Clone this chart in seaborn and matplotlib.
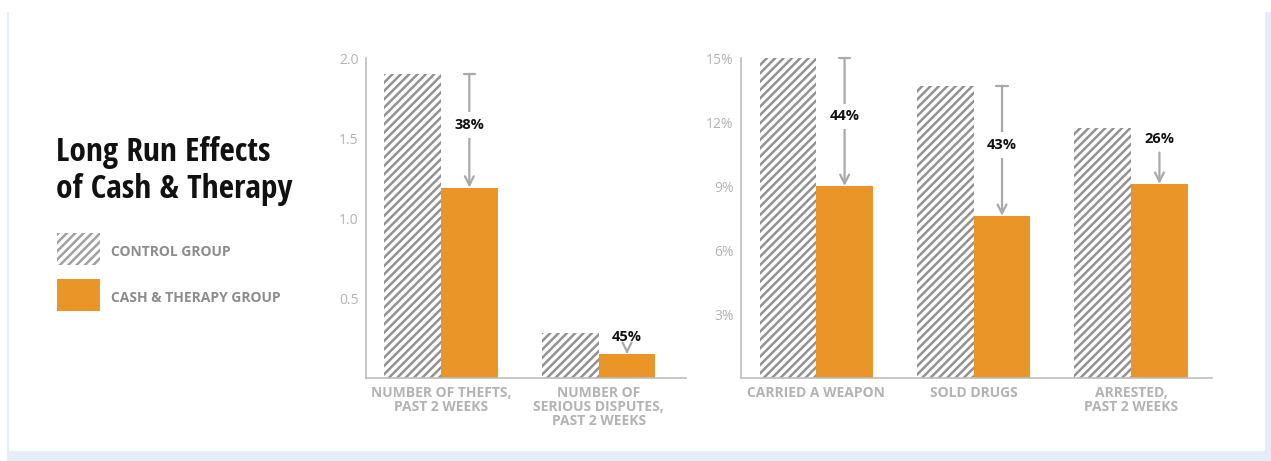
import pandas as pd
import matplotlib
matplotlib.use("Agg")
import matplotlib.pyplot as plt
from matplotlib.patches import Rectangle
from matplotlib.ticker import FuncFormatter
import seaborn as sns

# data
groups = ["CONTROL GROUP", "CASH & THERAPY GROUP"]

left_categories = ["NUMBER OF THEFTS,\nPAST 2 WEEKS", "NUMBER OF\nSERIOUS DISPUTES,\nPAST 2 WEEKS"]
left_control = [1.90, 0.28]
left_treat = [1.19, 0.15]
left_labels = ["38%", "45%"]

right_categories = ["CARRIED A WEAPON", "SOLD DRUGS", "ARRESTED,\nPAST 2 WEEKS"]
right_control = [15.0, 13.7, 11.7]
right_treat = [9.0, 7.6, 9.1]
right_labels = ["44%", "43%", "26%"]

left_ticks = [0.5, 1.0, 1.5, 2.0]
right_ticks = [3, 6, 9, 12, 15]

ORANGE = "#E99527"
STRIPE = "#929292"
AXIS = "#bdbdbd"
TICK = "#b3b3b3"
ARROW = "#a9a9a9"
FRAME = "#E5EDF8"

sns.set_style("white")
plt.rcParams["font.family"] = ["Open Sans", "DejaVu Sans"]
plt.rcParams["hatch.linewidth"] = 1.8

W, H = 1271, 461
fig = plt.figure(figsize=(W / 100, H / 100), dpi=100)
fig.patch.set_facecolor("white")


def px_axes(x0, y0, x1, y1):
	return fig.add_axes([x0 / W, 1 - y1 / H, (x1 - x0) / W, (y1 - y0) / H])


def panel(ax, cats, ctrl, trt, labels, ymax, ticks, fmt, xlim):
	df = pd.DataFrame({
		"category": cats * 2,
		"group": [groups[0]] * len(cats) + [groups[1]] * len(cats),
		"value": list(ctrl) + list(trt)})
	sns.barplot(data=df, x="category", y="value", hue="group",
		palette=["white", ORANGE], saturation=1, width=0.72, gap=0,
		legend=False, ax=ax)
	for p in ax.containers[0]:
		p.set_facecolor("white")
		p.set_edgecolor(STRIPE)
		p.set_hatch("////")
		p.set_linewidth(0)
	for p in ax.containers[1]:
		p.set_linewidth(0)
	ax.set_ylim(0, ymax)
	ax.set_xlim(*xlim)
	ax.set_yticks(ticks)
	ax.yaxis.set_major_formatter(FuncFormatter(fmt))
	ax.set_xlabel("")
	ax.set_ylabel("")
	for s in ["top", "right"]:
		ax.spines[s].set_visible(False)
	for s in ["left", "bottom"]:
		ax.spines[s].set_color(AXIS)
		ax.spines[s].set_linewidth(1.2)
	ax.tick_params(axis="both", length=0, colors=TICK)
	ax.tick_params(axis="y", pad=5, labelsize=10)
	ax.tick_params(axis="x", pad=6)
	for t in ax.get_xticklabels():
		t.set_fontweight("bold")
		t.set_fontsize(10)
		t.set_linespacing(1.0)
		t.set_verticalalignment("top")

	# reduction arrows
	for p, c, t, lab in zip(ax.containers[1], ctrl, trt, labels):
		x = p.get_x() + p.get_width() / 2
		if (c - t) / ymax > 0.25:
			ax.annotate("", xy=(x, t), xytext=(x, c),
				arrowprops=dict(arrowstyle="]->, widthA=0.25, lengthA=0",
					color=ARROW, lw=1.6, shrinkA=0, shrinkB=0, mutation_scale=16))
			ax.annotate(lab, xy=(x, (c + t) / 2), xytext=(0, 4), textcoords="offset points",
				ha="center", va="center", fontsize=10.5, fontweight="bold", color="#111111",
				bbox=dict(boxstyle="square,pad=0.4", fc="white", ec="none"))
		else:
			ax.annotate(lab, xy=(x, t), xytext=(x, c - 0.2 * (c - t)),
				ha="center", va="center", fontsize=10.5, fontweight="bold", color="#111111",
				arrowprops=dict(arrowstyle="->",
					color=ARROW, lw=1.6, shrinkA=2, shrinkB=0, mutation_scale=16))


ax1 = px_axes(365.6, 58, 686, 378)
panel(ax1, left_categories, left_control, left_treat, left_labels, 2.0, left_ticks,
	lambda v, pos: f"{v:.1f}", (-0.478, 1.554))

ax2 = px_axes(740.7, 58, 1211.7, 378)
panel(ax2, right_categories, right_control, right_treat, right_labels, 15, right_ticks,
	lambda v, pos: f"{v:.0f}%", (-0.48, 2.512))

# title and legend
fig.text(56 / W, 1 - 171 / H, "Long Run Effects\nof Cash & Therapy", ha="left", va="center",
	fontsize=24, fontweight="bold", color="#111111", linespacing=1.15,
	family=["Open Sans Condensed", "Cabin Condensed", "DejaVu Sans"])

fig.patches.append(Rectangle((57 / W, 1 - 265 / H), 43 / W, 32 / H, transform=fig.transFigure,
	facecolor="white", edgecolor="#a0a0a0", hatch="////", linewidth=0))
fig.patches.append(Rectangle((57 / W, 1 - 311 / H), 43 / W, 32 / H, transform=fig.transFigure,
	facecolor=ORANGE, linewidth=0))
for yy, g in zip([252, 298], groups):
	fig.text(111 / W, 1 - yy / H, g, ha="left", va="center", fontsize=10,
		fontweight="bold", color="#8c8c8c")

# light frame around the card
fig.patches.append(Rectangle((7 / W, 0), 1.5 / W, 1 - 12 / H, transform=fig.transFigure,
	facecolor=FRAME, linewidth=0))
fig.patches.append(Rectangle((7 / W, 0), 1 - 7 / W, 10 / H, transform=fig.transFigure,
	facecolor=FRAME, linewidth=0))
fig.patches.append(Rectangle((1265 / W, 0), 6 / W, 1 - 12 / H, transform=fig.transFigure,
	facecolor=FRAME, linewidth=0))

fig.savefig("out.png", dpi=100)
